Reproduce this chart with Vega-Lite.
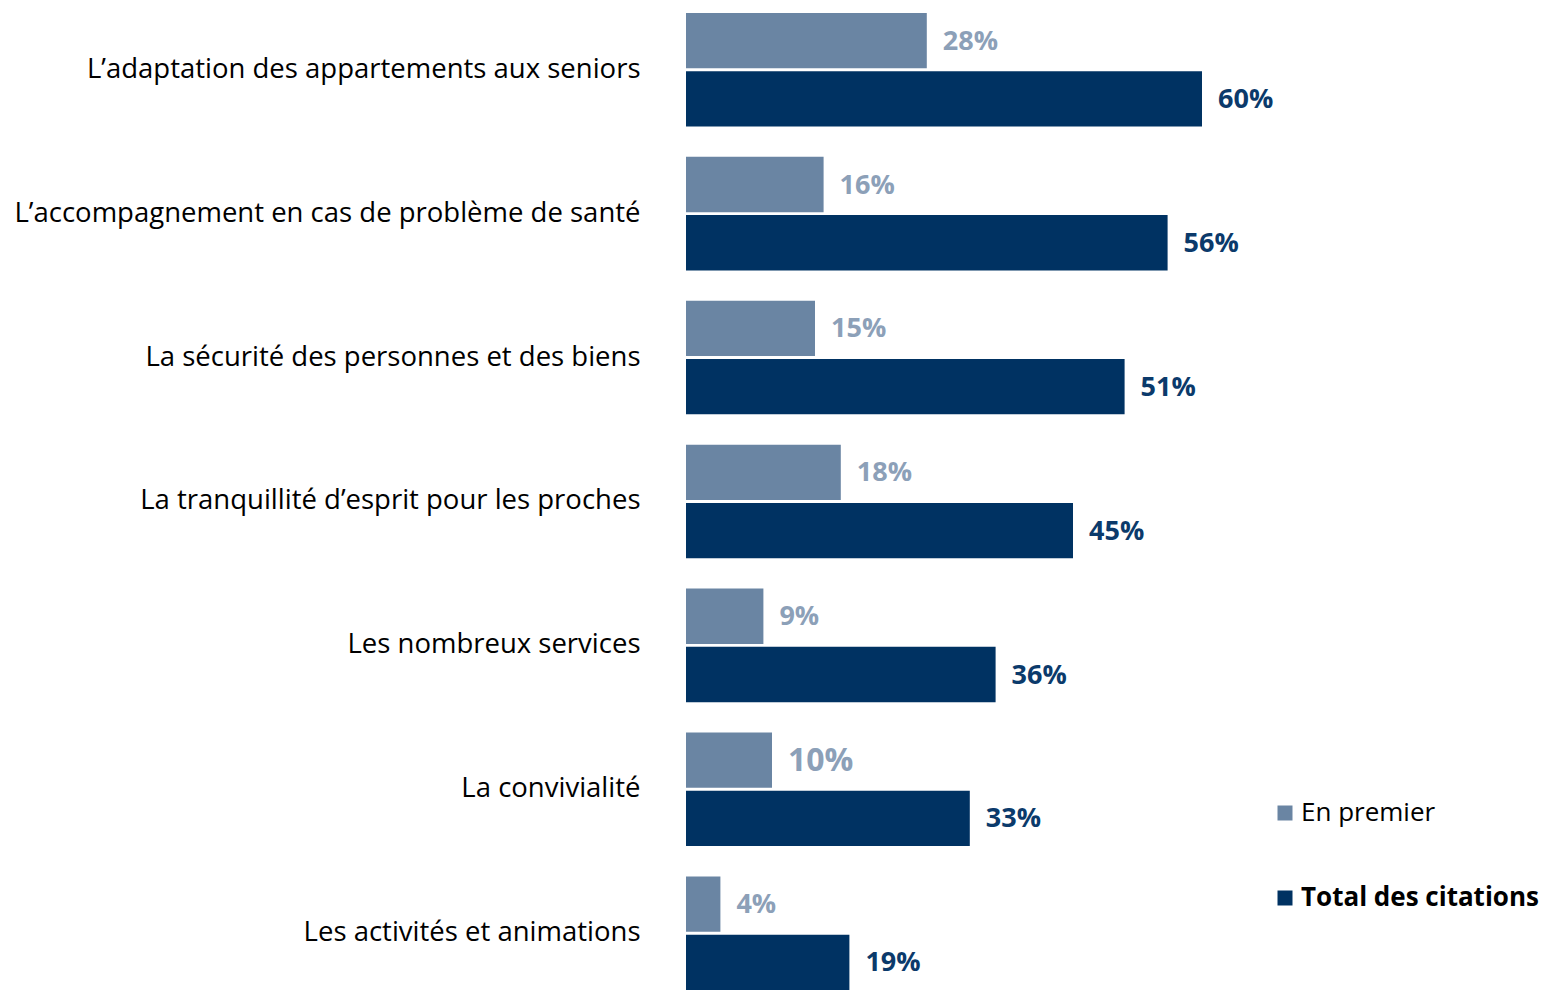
{
  "$schema": "https://vega.github.io/schema/vega-lite/v6.json",
  "width": 860,
  "height": 990,
  "autosize": {"type": "none"},
  "padding": {"left": 686, "top": 0, "right": 0, "bottom": 0},
  "background": "white",
  "config": {"view": {"stroke": null}},
  "data": {
    "values": [
      {"item": "L’adaptation des appartements aux seniors", "serie": "En  premier", "value": 0.28},
      {"item": "L’adaptation des appartements aux seniors", "serie": "Total des citations", "value": 0.60},
      {"item": "L’accompagnement en cas de problème de santé", "serie": "En  premier", "value": 0.16},
      {"item": "L’accompagnement en cas de problème de santé", "serie": "Total des citations", "value": 0.56},
      {"item": "La sécurité des personnes et des biens", "serie": "En  premier", "value": 0.15},
      {"item": "La sécurité des personnes et des biens", "serie": "Total des citations", "value": 0.51},
      {"item": "La tranquillité d’esprit pour les proches", "serie": "En  premier", "value": 0.18},
      {"item": "La tranquillité d’esprit pour les proches", "serie": "Total des citations", "value": 0.45},
      {"item": "Les nombreux services", "serie": "En  premier", "value": 0.09},
      {"item": "Les nombreux services", "serie": "Total des citations", "value": 0.36},
      {"item": "La convivialité", "serie": "En  premier", "value": 0.10},
      {"item": "La convivialité", "serie": "Total des citations", "value": 0.33},
      {"item": "Les activités et animations", "serie": "En  premier", "value": 0.04},
      {"item": "Les activités et animations", "serie": "Total des citations", "value": 0.19}
    ]
  },
  "encoding": {
    "y": {
      "field": "item",
      "type": "nominal",
      "sort": null,
      "scale": {"paddingInner": 0.211, "paddingOuter": 0.045, "align": 1},
      "axis": {
        "title": null,
        "domain": false,
        "ticks": false,
        "labelFont": "Open Sans",
        "labelFontSize": 27.5,
        "labelColor": "#000000",
        "labelPadding": 46,
        "labelLimit": 700
      }
    },
    "yOffset": {
      "field": "serie",
      "type": "nominal",
      "sort": ["En  premier", "Total des citations"],
      "scale": {"paddingInner": 0.05}
    },
    "x": {
      "field": "value",
      "type": "quantitative",
      "scale": {"domain": [0, 1]},
      "axis": null
    }
  },
  "layer": [
    {
      "mark": {"type": "bar"},
      "encoding": {
        "color": {
          "field": "serie",
          "type": "nominal",
          "sort": ["En  premier", "Total des citations"],
          "scale": {"domain": ["En  premier", "Total des citations"], "range": ["#6A85A3", "#003262"]},
          "legend": {
            "title": null,
            "orient": "none",
            "legendX": 586,
            "legendY": 800,
            "symbolType": "square",
            "symbolSize": 225,
            "symbolStrokeWidth": 0,
            "labelFont": "Open Sans",
            "labelFontSize": 26,
            "labelColor": "#000000",
            "labelOffset": 3,
            "rowPadding": 59,
            "labelLimit": 400,
            "encode": {
              "labels": {
                "update": {
                  "fontWeight": {"signal": "datum.label === 'Total des citations' ? 'bold' : 'normal'"}
                }
              }
            }
          }
        }
      }
    },
    {
      "mark": {"type": "text", "align": "left", "baseline": "middle", "dx": 16, "dy": 1, "font": "Open Sans", "fontWeight": "bold"},
      "encoding": {
        "text": {"field": "value", "type": "quantitative", "format": ".0%"},
        "color": {
          "condition": {"test": "datum.serie === 'Total des citations'", "value": "#0B3A6B"},
          "value": "#8CA0B8"
        },
        "size": {
          "condition": {"test": "datum.serie === 'En  premier' && datum.value === 0.10", "value": 32},
          "value": 27
        }
      }
    }
  ]
}
